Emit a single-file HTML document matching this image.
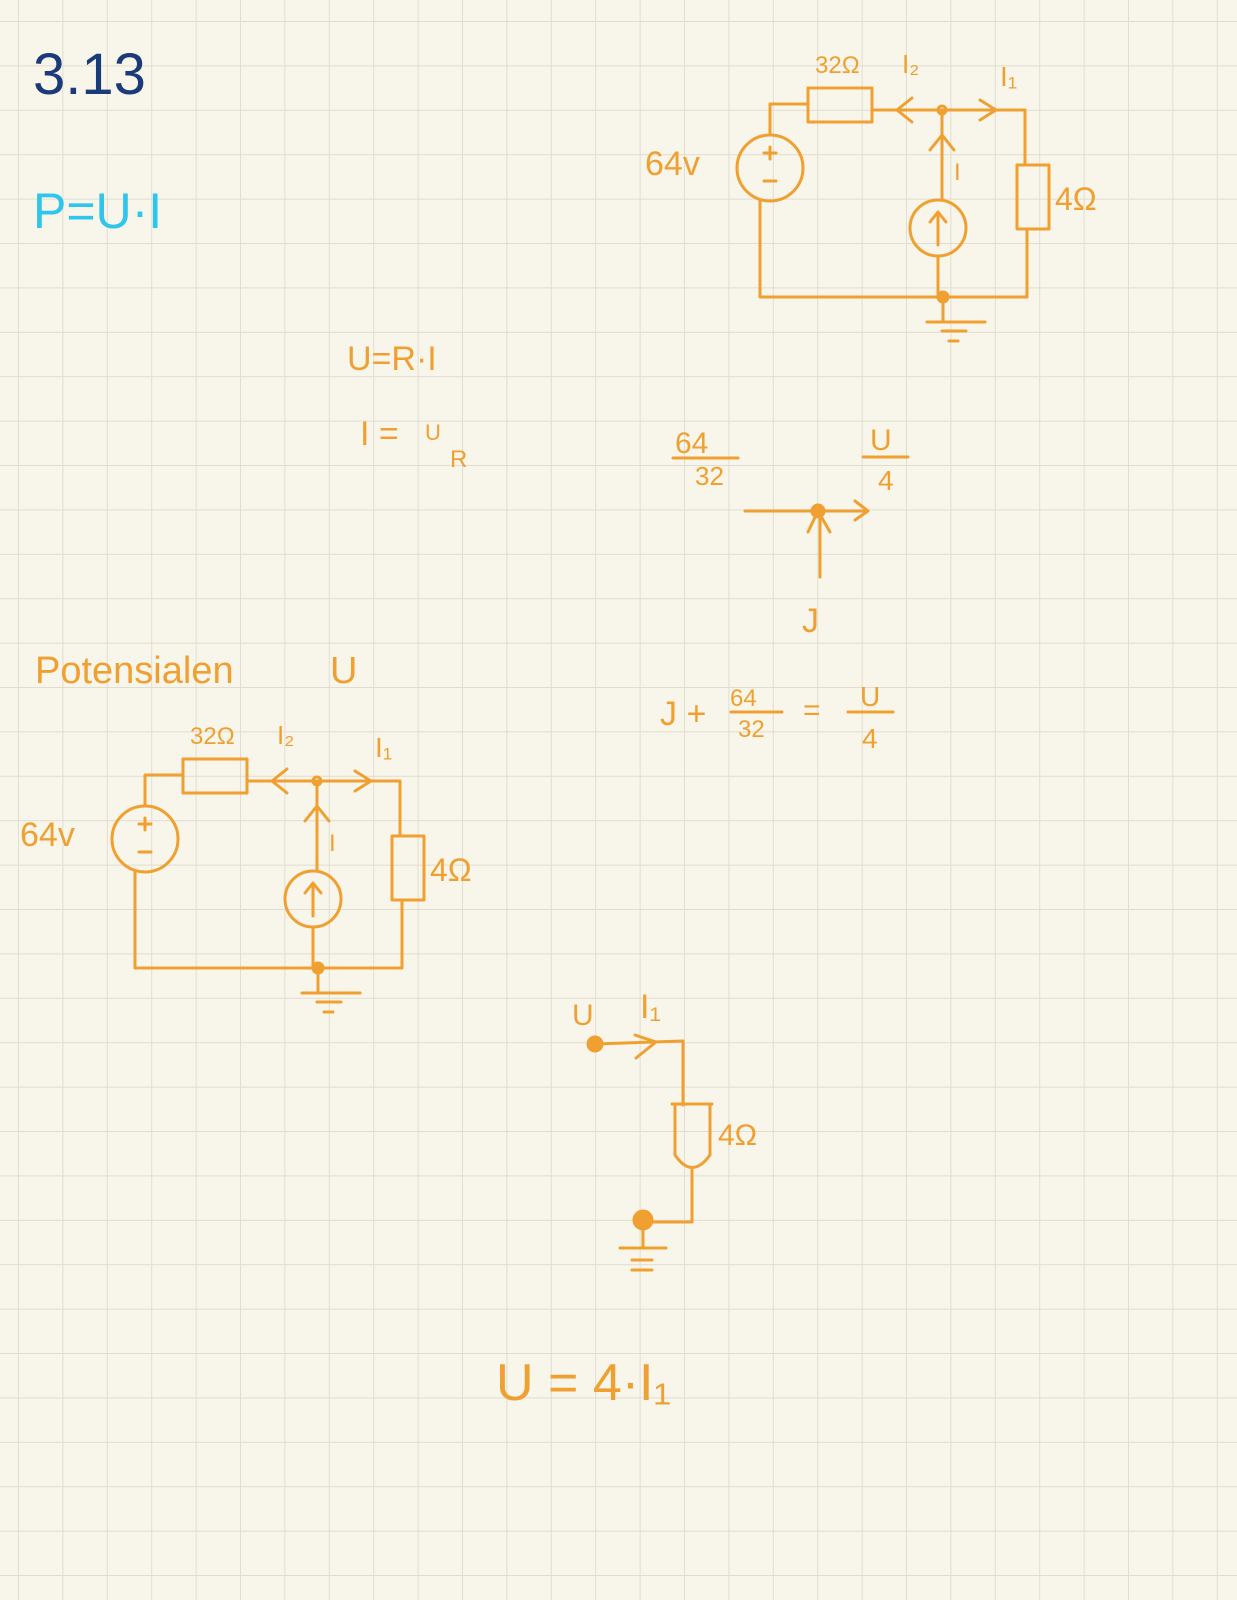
<!DOCTYPE html>
<html><head><meta charset="utf-8"><style>
html,body{margin:0;padding:0;background:#f8f5ea}
svg{display:block}
text{font-family:"Liberation Sans",sans-serif}
</style></head><body>
<svg width="1237" height="1600" viewBox="0 0 1237 1600" xmlns="http://www.w3.org/2000/svg">
<defs>
<pattern id="g" x="18" y="21" width="44.4" height="44.4" patternUnits="userSpaceOnUse">
<path d="M0 0H44.4M0 0V44.4" stroke="#e1ddd0" stroke-width="2" fill="none"/>
</pattern>
<g id="circ" fill="none" stroke="#f0a030" stroke-width="3" stroke-linecap="round" stroke-linejoin="round">
<circle cx="770" cy="168" r="33"/>
<path d="M770 135V104H808M872 110H1025V165M1017 165H1049V229H1017ZM1027 229V297H760V201"/>
<rect x="808" y="88" width="64" height="34"/>
<path d="M912 98L897 110L912 122M980 100L996 110L980 120"/>
<path d="M942 110V200M930 150L942 135L954 150"/>
<circle cx="938" cy="228" r="28"/>
<path d="M938 245V212M930 222L938 212L946 222M938 256V297M943 297V320M927 322H985M942 331H966M949 341H958"/>
<path d="M764 153H776M770 147V159M764 181H776"/>
<circle cx="943" cy="297" r="5" fill="#f0a030"/>
<circle cx="942" cy="110" r="4"/>
<g fill="#f0a030" stroke="none" font-size="30">
<text x="815" y="73" font-size="24">32Ω</text>
<text x="902" y="73" font-size="26">I₂</text>
<text x="1000" y="86" font-size="28">I₁</text>
<text x="645" y="175" font-size="34">64v</text>
<text x="954" y="180" font-size="24">I</text>
<text x="1055" y="210" font-size="32">4Ω</text>
</g>
</g>
</defs>
<rect width="1237" height="1600" fill="#f8f5ea"/>
<rect width="1237" height="1600" fill="url(#g)"/>

<text x="33" y="94" font-size="58" fill="#1b3a78">3.13</text>
<text x="33" y="228" font-size="50" fill="#2ec6ec">P=U·I</text>

<use href="#circ"/>
<use href="#circ" transform="translate(-625,671)"/>

<g fill="#f0a030" font-size="34">
<text x="347" y="370">U=R·I</text>
<text x="360" y="445">I =</text>
<text x="425" y="440" font-size="22">U</text>
<text x="450" y="467" font-size="24">R</text>
<text x="35" y="683" font-size="38">Potensialen</text>
<text x="330" y="683" font-size="38">U</text>
<text x="675" y="453" font-size="30">64</text>
<text x="695" y="485" font-size="26">32</text>
<text x="870" y="450" font-size="30">U</text>
<text x="878" y="490" font-size="28">4</text>
<text x="802" y="632" font-size="34">J</text>
<text x="660" y="725" font-size="34">J +</text>
<text x="730" y="706" font-size="24">64</text>
<text x="738" y="737" font-size="24">32</text>
<text x="803" y="720" font-size="30">=</text>
<text x="860" y="706" font-size="28">U</text>
<text x="862" y="748" font-size="28">4</text>
<text x="572" y="1025" font-size="30">U</text>
<text x="640" y="1018" font-size="34">I₁</text>
<text x="718" y="1145" font-size="30">4Ω</text>
<text x="496" y="1400" font-size="52">U = 4·I₁</text>
</g>
<g fill="none" stroke="#f0a030" stroke-width="3" stroke-linecap="round" stroke-linejoin="round">
<path d="M673 458H738M863 457H908M731 712H782M848 712H893"/>
<path d="M745 511H868M855 501L868 511L855 520M820 577V511M808 532L818 511L830 532"/>
<circle cx="818" cy="511" r="6" fill="#f0a030"/>
<path d="M595 1044L683 1041V1105M635 1035L656 1042L636 1058"/>
<path d="M672 1104H712M675 1104V1155Q692 1180 710 1155V1104M692 1170V1222H643M643 1222V1248M620 1248H666M632 1260H652M632 1270H652"/>
<circle cx="595" cy="1044" r="7" fill="#f0a030"/>
<circle cx="643" cy="1220" r="9" fill="#f0a030"/>
</g>
</svg>
</body></html>
